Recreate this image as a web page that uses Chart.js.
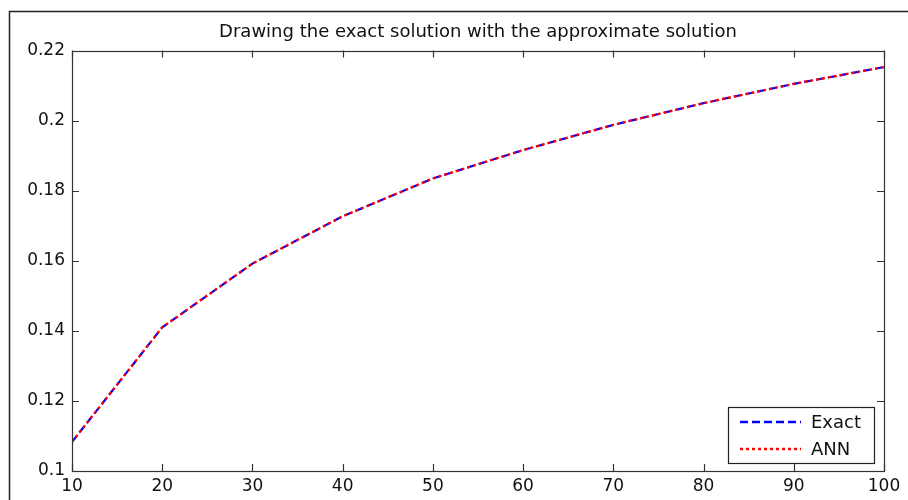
<!DOCTYPE html>
<html>
<head>
<meta charset="utf-8">
<script src="https://cdn.jsdelivr.net/npm/chart.js@4.4.1/dist/chart.umd.min.js"></script>
<style>
  html, body { margin: 0; padding: 0; background: #fff; }
  canvas { display: block; }
</style>
</head>
<body>
<canvas id="c" width="908" height="500"></canvas>
<script>
const xValues = [10, 20, 30, 40, 50, 60, 70, 80, 90, 100];
const exactValues = [0.1083, 0.1410, 0.1592, 0.1727, 0.1835, 0.1916, 0.1988, 0.2050, 0.2105, 0.2153];
const annValues   = [0.1083, 0.1410, 0.1592, 0.1727, 0.1835, 0.1916, 0.1988, 0.2050, 0.2105, 0.2153];
const xTicks = [10, 20, 30, 40, 50, 60, 70, 80, 90, 100];
const yTicks = [0.1, 0.12, 0.14, 0.16, 0.18, 0.2, 0.22];
const titleText = 'Drawing the exact solution with the approximate solution';
const seriesLabels = ['Exact', 'ANN'];

const FONT = "'DejaVu Sans', sans-serif";
const TEXT = '#111';

const frame = {
  id: 'frame',
  beforeDraw(chart) {
    const ctx = chart.ctx;
    ctx.save();
    ctx.fillStyle = '#fff';
    ctx.fillRect(0, 0, chart.width, chart.height);
    ctx.strokeStyle = '#222';
    ctx.lineWidth = 1.5;
    ctx.beginPath();
    ctx.moveTo(9.5, chart.height + 2);
    ctx.lineTo(9.5, 11.5);
    ctx.lineTo(chart.width + 2, 11.5);
    ctx.stroke();
    ctx.restore();
  },
  afterDatasetsDraw(chart) {
    const ctx = chart.ctx;
    const a = chart.chartArea;
    const xs = chart.scales.x, ys = chart.scales.y;
    ctx.save();
    ctx.strokeStyle = '#333';
    ctx.lineWidth = 1.2;
    ctx.strokeRect(Math.round(a.left) + 0.5, Math.round(a.top) + 0.5,
                   Math.round(a.right - a.left), Math.round(a.bottom - a.top));
    const tl = 7;
    ctx.beginPath();
    xTicks.forEach(v => {
      const px = Math.round(xs.getPixelForValue(v)) + 0.5;
      ctx.moveTo(px, a.bottom); ctx.lineTo(px, a.bottom - tl);
      ctx.moveTo(px, a.top); ctx.lineTo(px, a.top + tl);
    });
    yTicks.forEach(v => {
      const py = Math.round(ys.getPixelForValue(v)) + 0.5;
      ctx.moveTo(a.left, py); ctx.lineTo(a.left + tl, py);
      ctx.moveTo(a.right, py); ctx.lineTo(a.right - tl, py);
    });
    ctx.stroke();

    // legend box
    const lx = 728.5, ly = 407.5, lw = 146, lh = 56;
    ctx.fillStyle = '#fff';
    ctx.fillRect(lx, ly, lw, lh);
    ctx.strokeStyle = '#222';
    ctx.lineWidth = 1.2;
    ctx.strokeRect(lx, ly, lw, lh);
    const ds = chart.data.datasets;
    const rows = [422, 449];
    ds.forEach((d, i) => {
      ctx.strokeStyle = d.borderColor;
      ctx.lineWidth = 2.5;
      ctx.setLineDash(d.borderDash);
      ctx.beginPath();
      ctx.moveTo(740, rows[i]);
      ctx.lineTo(801, rows[i]);
      ctx.stroke();
      ctx.setLineDash([]);
      ctx.fillStyle = TEXT;
      ctx.font = '18px ' + FONT;
      ctx.textAlign = 'left';
      ctx.textBaseline = 'middle';
      ctx.fillText(d.label, 811, rows[i] + 1);
    });
    ctx.restore();
  }
};

const fmt = v => String(parseFloat(Number(v).toFixed(4)));

new Chart(document.getElementById('c'), {
  type: 'line',
  data: {
    datasets: [
      {
        label: seriesLabels[0],
        data: xValues.map((x, i) => ({ x: x, y: exactValues[i] })),
        borderColor: '#0000ff',
        borderWidth: 2.2,
        borderDash: [8, 4],
        pointRadius: 0,
        fill: false,
        tension: 0,
        order: 1
      },
      {
        label: seriesLabels[1],
        data: xValues.map((x, i) => ({ x: x, y: annValues[i] })),
        borderColor: '#ff0000',
        borderWidth: 2.2,
        borderDash: [3, 3],
        pointRadius: 0,
        fill: false,
        tension: 0,
        order: 0
      }
    ]
  },
  options: {
    responsive: false,
    animation: false,
    events: [],
    layout: { padding: { left: 0, right: 24, top: 0, bottom: 0 } },
    plugins: {
      legend: { display: false },
      tooltip: { enabled: false },
      title: {
        display: true,
        text: titleText,
        fullSize: false,
        color: TEXT,
        font: { family: FONT, size: 18, weight: 'normal' },
        padding: { top: 22, bottom: 7 }
      }
    },
    scales: {
      x: {
        type: 'linear',
        min: 10, max: 100,
        afterBuildTicks: s => { s.ticks = xTicks.map(v => ({ value: v })); },
        afterFit: s => { s.height = 29; },
        grid: { display: false, drawTicks: false },
        border: { display: false },
        ticks: {
          color: TEXT, padding: 5, maxRotation: 0, autoSkip: false,
          font: { family: FONT, size: 17 },
          callback: v => fmt(v)
        }
      },
      y: {
        type: 'linear',
        min: 0.1, max: 0.22,
        afterBuildTicks: s => { s.ticks = yTicks.map(v => ({ value: v })); },
        afterFit: s => { s.width = 72; },
        grid: { display: false, drawTicks: false },
        border: { display: false },
        ticks: {
          color: TEXT, padding: 7, autoSkip: false,
          font: { family: FONT, size: 17 },
          callback: v => fmt(v)
        }
      }
    }
  },
  plugins: [frame]
});
</script>
</body>
</html>
